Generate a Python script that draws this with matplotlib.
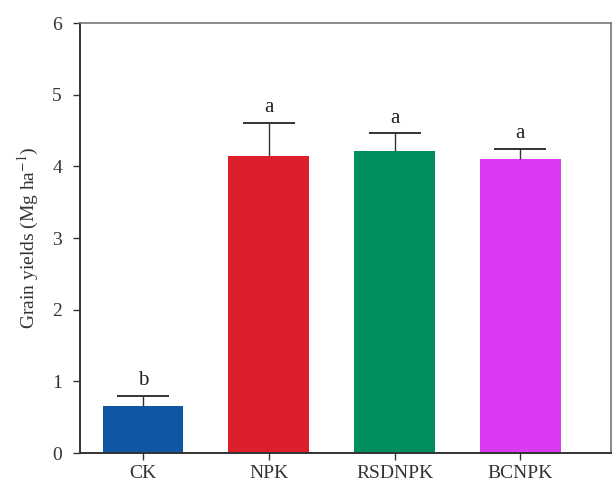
import matplotlib
matplotlib.use("Agg")
import matplotlib.pyplot as plt
import numpy as np

# ---- data ----
treatments = ["CK", "NPK", "RSDNPK", "BCNPK"]
yields     = [0.66, 4.15, 4.21, 4.10]
errors     = [0.14, 0.46, 0.25, 0.14]
letters    = ["b", "a", "a", "a"]
colors     = ["#0f57a3", "#dc1f2b", "#008e5e", "#d93af2"]

plt.rcParams["font.family"] = ["Liberation Serif", "DejaVu Serif"]
plt.rcParams["mathtext.fontset"] = "stix"

fig = plt.figure(figsize=(6.12, 4.90), dpi=100)
ax = fig.add_axes([80/612, 37/490, 531/612, 430/490])

x = np.arange(len(treatments))
y = np.array(yields)
tops = y + np.array(errors)
ax.bar(x, y, width=0.64, color=colors, zorder=2)
# upper-only error bars: stem from bar top, single cap at the top
ax.vlines(x, y, tops, color="#333333", lw=1.0, zorder=3)
ax.errorbar(x, tops, yerr=np.zeros(len(x)), fmt="none",
            ecolor="#333333", capsize=19, capthick=1.2, zorder=3)

for xi, t, lab in zip(x, tops, letters):
    ax.text(xi, t + 0.08, lab, ha="center", va="bottom", fontsize=15, color="#222222")

ax.set_xlim(-0.5, 3.72)
ax.set_ylim(0, 6)
ax.set_yticks(range(0, 7))
ax.set_xticks(x)
ax.set_xticklabels(treatments)
ax.tick_params(axis="both", direction="out", labelsize=14, length=5, width=1, colors="#333333")
ax.tick_params(axis="y", pad=8)
ax.set_ylabel("Grain yields (Mg ha$^{-1}$)", fontsize=14, color="#333333", labelpad=8)

for side in ["left", "bottom"]:
    ax.spines[side].set_linewidth(1.4)
    ax.spines[side].set_color("#333333")
for side in ["top", "right"]:
    ax.spines[side].set_linewidth(1.2)
    ax.spines[side].set_color("#777777")

fig.savefig("out.png", dpi=100)
